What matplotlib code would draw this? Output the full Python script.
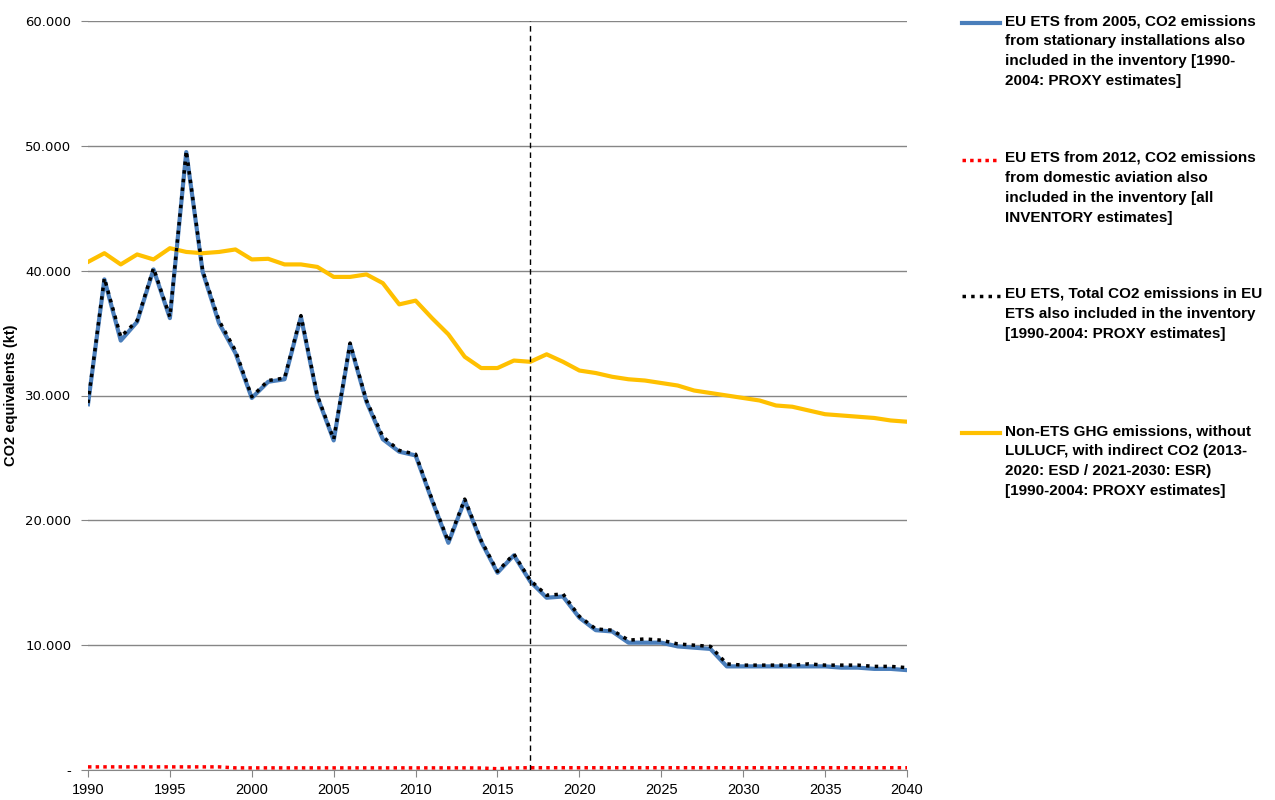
import matplotlib
matplotlib.use("Agg")
import matplotlib.pyplot as plt
from matplotlib.lines import Line2D
from matplotlib.ticker import FuncFormatter

# Data (kt CO2 eq.)
years = list(range(1990, 2041))

ets_stationary = [
    29300, 39300, 34400, 35900, 40100, 36200, 49500, 39900, 35800, 33400,
    29800, 31100, 31300, 36300, 29900, 26400, 34100, 29500, 26500, 25500,
    25200, 21600, 18200, 21600, 18300, 15800, 17200, 15100, 13800, 13900,
    12200, 11200, 11100, 10200, 10200, 10200, 9900, 9800, 9700, 8300,
    8300, 8300, 8300, 8300, 8300, 8300, 8200, 8200, 8100, 8100, 8000,
]
ets_aviation = [
    250, 250, 250, 250, 250, 250, 250, 250, 250, 170,
    170, 170, 170, 170, 170, 170, 170, 170, 170, 170,
    170, 170, 170, 170, 160, 100, 170, 180, 180, 180,
    180, 180, 180, 180, 180, 180, 180, 180, 180, 180,
    180, 180, 180, 180, 180, 180, 180, 180, 180, 180, 180,
]
ets_total = [
    29400, 39400, 34700, 36000, 40200, 36300, 49600, 40000, 36000, 33600,
    29900, 31200, 31400, 36400, 30000, 26500, 34200, 29600, 26700, 25600,
    25300, 21700, 18300, 21700, 18400, 15900, 17300, 15200, 14000, 14100,
    12300, 11300, 11200, 10400, 10500, 10400, 10100, 10000, 9900, 8500,
    8400, 8400, 8400, 8400, 8500, 8400, 8400, 8400, 8300, 8300, 8200,
]
non_ets = [
    40700, 41400, 40500, 41300, 40900, 41800, 41500, 41400, 41500, 41700,
    40900, 40950, 40500, 40500, 40300, 39500, 39500, 39700, 39000, 37300,
    37600, 36200, 34900, 33100, 32200, 32200, 32800, 32700, 33300, 32700,
    32000, 31800, 31500, 31300, 31200, 31000, 30800, 30400, 30200, 30000,
    29800, 29600, 29200, 29100, 28800, 28500, 28400, 28300, 28200, 28000, 27900,
]

labels = [
    "EU ETS from 2005, CO2 emissions\nfrom stationary installations also\nincluded in the inventory [1990-\n2004: PROXY estimates]",
    "EU ETS from 2012, CO2 emissions\nfrom domestic aviation also\nincluded in the inventory [all\nINVENTORY estimates]",
    "EU ETS, Total CO2 emissions in EU\nETS also included in the inventory\n[1990-2004: PROXY estimates]",
    "Non-ETS GHG emissions, without\nLULUCF, with indirect CO2 (2013-\n2020: ESD / 2021-2030: ESR)\n[1990-2004: PROXY estimates]",
]
split_year = 2017

plt.rcParams["font.family"] = ["Liberation Sans", "DejaVu Sans"]

fig = plt.figure(figsize=(12.75, 8.0), dpi=100)
ax = fig.add_axes([88/1275, 30/800, (907-88)/1275, (770-21)/800])

blue, red, yellow = "#4a7ebb", "#ff0000", "#ffc000"
ax.plot(years, ets_stationary, color=blue, lw=3, zorder=3)
ax.plot(years, ets_aviation, color=red, lw=2.5, ls=(0, (1, 1.2)), zorder=4)
ax.plot(years, ets_total, color="black", lw=2.5, ls=(0, (1, 1.5)), zorder=4)
ax.plot(years, non_ets, color=yellow, lw=3, zorder=3)
ax.axvline(split_year, color="black", lw=1, ls=(0, (4, 3)), zorder=5)

ax.set_xlim(1990, 2040)
ax.set_ylim(0, 60000)
ax.set_xticks(range(1990, 2041, 5))
ax.set_yticks(range(0, 60001, 10000))
ax.yaxis.set_major_formatter(FuncFormatter(
    lambda v, p: "-" if v == 0 else f"{int(v):,}".replace(",", ".")))
ax.grid(axis="y", color="#868686", lw=1)
ax.set_axisbelow(True)
for s in ["top", "right", "left"]:
    ax.spines[s].set_visible(False)
ax.spines["bottom"].set_color("#868686")
ax.tick_params(axis="y", length=5, color="#868686", labelsize=9.5, pad=7)
ax.tick_params(axis="x", length=5, color="#868686", labelsize=10.5, pad=4)
for t in ax.get_yticklabels():
    t.set_fontfamily("DejaVu Sans")
ax.set_ylabel("CO2 equivalents (kt)", fontsize=10.5, fontweight="bold")
ax.yaxis.set_label_coords(-0.086, 0.5)

# legend on the right
styles = [
    dict(color=blue, lw=3, ls="-"),
    dict(color=red, lw=2.5, ls=(0, (1, 1.2))),
    dict(color="black", lw=2.5, ls=(0, (1, 1.5))),
    dict(color=yellow, lw=3, ls="-"),
]
legend_y = [23, 160, 296, 433]
for lab, st, y in zip(labels, styles, legend_y):
    yf = 1 - y/800
    fig.add_artist(Line2D([962/1275, 1000/1275], [yf, yf], transform=fig.transFigure, **st))
    fig.text(1005/1275, yf + 9/800, lab, ha="left", va="top", fontsize=11,
             fontweight="bold", linespacing=1.55)

plt.savefig("out.png", dpi=100)
